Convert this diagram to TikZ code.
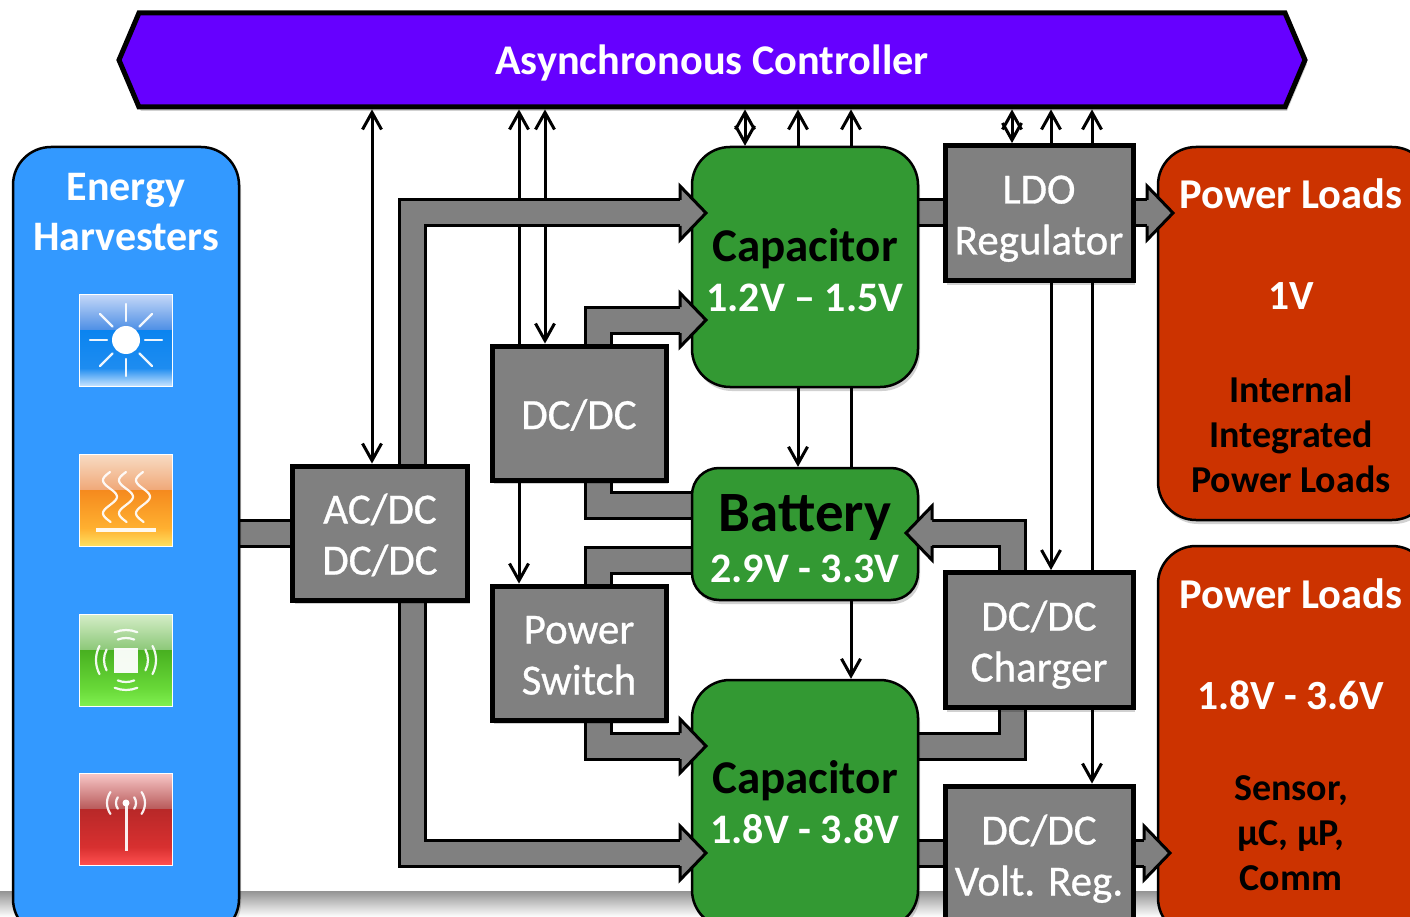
\documentclass[tikz,border=0pt]{standalone}
\usepackage{fontspec}
\setmainfont{Carlito}
\newfontfamily\grayfont[FakeBold=0.7]{Carlito}
\usetikzlibrary{arrows.meta,calc,shapes.symbols,shadows,backgrounds}
\definecolor{ctrlc}{HTML}{6600FF}
\definecolor{harvc}{HTML}{3399FF}
\definecolor{storec}{HTML}{339933}
\definecolor{loadc}{HTML}{CC3300}
\definecolor{fatc}{HTML}{808080}
\newcommand\fs[2]{\fontsize{#1}{#2}\selectfont}
\newcommand\toprl[1]{\rule{0pt}{#1pt}}
\newcommand\botrl[1]{\rule[-#1pt]{0pt}{1pt}}
\newcommand\two[2]{\toprl{44}#1\\#2\botrl{12}}
\pgfdeclarearrow{
  name=VBarb,
  setup code={
    \pgfarrowssettipend{3pt}
    \pgfarrowssetlineend{-1pt}
    \pgfarrowssetvisualbackend{-17pt}
    \pgfarrowssetbackend{-17pt}
    \pgfarrowshullpoint{-17pt}{9.5pt}
    \pgfarrowshullpoint{-17pt}{-9.5pt}
    \pgfarrowshullpoint{3pt}{0pt}
  },
  drawing code={
    \pgfsetdash{}{0pt}
    \pgfsetmiterjoin
    \pgfpathmoveto{\pgfqpoint{-17pt}{9.5pt}}
    \pgfpathlineto{\pgfqpoint{0pt}{0pt}}
    \pgfpathlineto{\pgfqpoint{-17pt}{-9.5pt}}
    \pgfusepathqstroke
  },
}
\tikzset{
  softshadow/.style={general shadow={shadow xshift=2pt,shadow yshift=-4pt,fill=black,opacity=.18}},
  conv/.style={draw=black,line width=5pt,fill=fatc,text=white,align=center,inner sep=0pt,font=\grayfont\fs{43}{51},softshadow},
  store/.style={draw=black,line width=2.5pt,fill=storec,align=center,inner sep=0pt,font=\fs{47}{50},softshadow},
  rail/.style={draw=black,line width=2.5pt,inner sep=0pt,softshadow},
  sig/.style={line width=3pt,draw=black},
  up/.style={sig,-VBarb},
  both/.style={sig,VBarb-VBarb},
  fatline/.style={draw=black,line width=3pt,double=fatc,double distance=23pt,line join=miter},
  fathead/.style={draw=black,fill=fatc,line width=3pt,line join=miter},
  lab/.style={align=center,inner sep=0pt},
  iconline/.style={draw=white,line width=2.2pt,line cap=round,opacity=.92},
}
\newcommand\headat[2]{\filldraw[fathead,shift={(#1)},rotate=#2] (-26,-13) -- (-26,-27) -- (0,0) -- (-26,27) -- (-26,13);}
\newcommand\iconbg[7]{%
  \shade[top color=#2,bottom color=#3] (79,#1-46) rectangle (172,#1-10);
  \shade[top color=#4,bottom color=#5] (79,#1-10) rectangle (172,#1+28);
  \shade[top color=#5,bottom color=#6] (79,#1+28) rectangle (172,#1+46);
  \draw[#7,line width=1pt] (79,#1-46) rectangle (172,#1+46);}
\definecolor{bA}{HTML}{C6D8F8}\definecolor{bB}{HTML}{4D8FE5}\definecolor{bC}{HTML}{0A84F0}\definecolor{bD}{HTML}{1E8CF0}\definecolor{bE}{HTML}{C8E4FF}
\definecolor{oA}{HTML}{F8DCC4}\definecolor{oB}{HTML}{F0A878}\definecolor{oC}{HTML}{F58A1E}\definecolor{oD}{HTML}{FFB030}\definecolor{oE}{HTML}{FFE060}
\definecolor{gA}{HTML}{D5EDC8}\definecolor{gB}{HTML}{8CC878}\definecolor{gC}{HTML}{48B020}\definecolor{gD}{HTML}{68D838}\definecolor{gE}{HTML}{80F050}
\definecolor{rA}{HTML}{F8C8C8}\definecolor{rB}{HTML}{B85A5A}\definecolor{rC}{HTML}{B82828}\definecolor{rD}{HTML}{D83030}\definecolor{rE}{HTML}{FF5050}
\begin{document}
\begin{tikzpicture}[x=1pt,y=-1pt]
\pgfdeclarelayer{thinlayer}
\pgfdeclarelayer{fatlayer}
\pgfsetlayers{thinlayer,fatlayer,main}
\useasboundingbox (0,0) rectangle (1410,917);
\clip (0,0) rectangle (1410,917);
\begin{pgfonlayer}{thinlayer}
\shade[top color=black!42,bottom color=white] (0,891) rectangle (1410,917);
\end{pgfonlayer}

% nodes
\node[shape=signal,signal to=east and west,signal pointer angle=134,draw=black,line width=5pt,fill=ctrlc,inner sep=0pt,minimum width=1186pt,minimum height=94pt,softshadow] (ctrl) at (712,60) {};
\node[lab,text=white,font=\fs{42.3}{46}\bfseries] (ctrlt) at (712,63) {Asynchronous Controller};
\node[rail,fill=harvc,minimum width=226pt,minimum height=790pt,rounded corners=38pt] (harv) at (126,542) {};
\node[lab,text=white,font=\fs{42}{50}\bfseries] (harvt) at (126,212) {Energy\\Harvesters};
\node[conv,minimum width=175pt,minimum height=134pt] (acdc) at (380,533) {\two{AC/DC}{DC/DC}};
\node[conv,minimum width=174pt,minimum height=134pt] (dcdc) at (579,413) {\toprl{44}DC/DC\botrl{12}};
\node[conv,minimum width=174pt,minimum height=134pt] (psw) at (579,653) {\two{Power}{Switch}};
\node[conv,minimum width=188pt,minimum height=135pt] (ldo) at (1039,213) {\two{LDO}{Regulator}};
\node[conv,minimum width=188pt,minimum height=135pt] (chg) at (1039,640) {\two{DC/DC}{Charger}};
\node[conv,minimum width=188pt,minimum height=136pt] (vreg) at (1039,854) {\two{DC/DC}{Volt. Reg.}};
\node[store,minimum width=226pt,minimum height=240pt,rounded corners=38pt] (capa) at (805,267) {\toprl{39}\bfseries Capacitor\\{\fs{42}{50}\bfseries\color{white}1.2V – 1.5V}};
\node[store,font=\fs{57}{51},minimum width=226pt,minimum height=132pt,rounded corners=27pt] (batt) at (805,534) {\toprl{46}\bfseries Battery\\{\fs{42}{51}\bfseries\color{white}2.9V - 3.3V}};
\node[store,minimum width=226pt,minimum height=248pt,rounded corners=38pt] (capb) at (805,804) {\bfseries Capacitor\\{\fs{42}{50}\bfseries\color{white}1.8V - 3.8V}\botrl{3}};
\node[rail,fill=loadc,minimum width=272pt,minimum height=373pt,rounded corners=38pt] (loada) at (1294,333.5) {};
\node[rail,fill=loadc,minimum width=272pt,minimum height=390pt,rounded corners=38pt] (loadb) at (1294,741) {};
\node[lab,text=white,font=\fs{42.5}{46}\bfseries] (la1) at (1291,194) {Power Loads};
\node[lab,text=white,font=\fs{41.5}{46}\bfseries] (la2) at (1291,296) {1V};
\node[lab,text=black,font=\fs{38}{45}\bfseries] (la3) at (1291,434) {Internal\\Integrated\\Power Loads};
\node[lab,text=white,font=\fs{42.5}{46}\bfseries] (lb1) at (1291,594) {Power Loads};
\node[lab,text=white,font=\fs{41.5}{46}\bfseries] (lb2) at (1291,695) {1.8V - 3.6V};
\node[lab,text=black,font=\fs{38}{45}\bfseries] (lb3) at (1291,833) {Sensor,\\µC, µP,\\Comm};

% guides
\foreach \v in {372,412,519,545,598,745,798,851,1012,1051,1092} \coordinate (x\v) at (\v,0);
\foreach \v in {213,505,533,560,746,853} \coordinate (y\v) at (0,\v);
\coordinate (tipA) at (706,213);
\coordinate (tipB) at (706,320);
\coordinate (tipC) at (706,853);
\coordinate (tipD) at (706,746);
\coordinate (tipE) at (906,533);
\coordinate (tipF) at (1173,213);
\coordinate (tipG) at (1170,853);

% thin signals
\begin{pgfonlayer}{thinlayer}
\draw[both] (ctrl.south -| x372) -- (acdc.north -| x372);
\draw[up] (dcdc.north -| x519) -- (ctrl.south -| x519);
\draw[up] (dcdc.south -| x519) -- (psw.north -| x519);
\draw[both] (ctrl.south -| x545) -- (dcdc.north -| x545);
\draw[both] (ctrl.south -| x745) -- (capa.north -| x745);
\draw[up] (capa.north -| x798) -- (ctrl.south -| x798);
\draw[up] (capa.north -| x851) -- (ctrl.south -| x851);
\draw[up] (capa.south -| x798) -- (batt.north -| x798);
\draw[sig] (capa.south -| x851) -- (batt.north -| x851);
\draw[up] (batt.south -| x851) -- (capb.north -| x851);
\draw[both] (ctrl.south -| x1012) -- (ldo.north -| x1012);
\draw[up] (ldo.north -| x1051) -- (ctrl.south -| x1051);
\draw[up] (ldo.north -| x1092) -- (ctrl.south -| x1092);
\draw[up] (ldo.south -| x1051) -- (chg.north -| x1051);
\draw[sig] (ldo.south -| x1092) -- (chg.north -| x1092);
\draw[up] (chg.south -| x1092) -- (vreg.north -| x1092);
\end{pgfonlayer}

% power paths
\begin{pgfonlayer}{fatlayer}
\draw[fatline] (harv.east |- y533) -- (acdc.west |- y533);
\draw[fatline] (acdc.north -| x412) |- ($(tipA)+(-26,0)$);
\draw[fatline] (acdc.south -| x412) |- ($(tipC)+(-26,0)$);
\draw[fatline] (dcdc.north -| x598) |- ($(tipB)+(-26,0)$);
\draw[fatline] (dcdc.south -| x598) |- (batt.west |- y505);
\draw[fatline] (psw.north -| x598) |- (batt.west |- y560);
\draw[fatline] (psw.south -| x598) |- ($(tipD)+(-26,0)$);
\draw[fatline] (chg.north -| x1012) |- ($(tipE)+(26,0)$);
\draw[fatline] (chg.south -| x1012) |- (capb.east |- y746);
\draw[fatline] (capa.east |- y213) -- (ldo.west |- y213);
\draw[fatline] (ldo.east |- y213) -- ($(tipF)+(-26,0)$);
\draw[fatline] (capb.east |- y853) -- (vreg.west |- y853);
\draw[fatline] (vreg.east |- y853) -- ($(tipG)+(-26,0)$);
\end{pgfonlayer}
\headat{tipA}{0}
\headat{tipB}{0}
\headat{tipC}{0}
\headat{tipD}{0}
\headat{tipE}{180}
\headat{tipF}{0}
\headat{tipG}{0}

% icons
\iconbg{340}{bA}{bB}{bC}{bD}{bE}{white}
\begin{scope}[shift={(126,340)}]
\fill[white] (0,0) circle (14);
\foreach \a in {0,90,180,270} \draw[iconline] (\a:19) -- (\a:36);
\foreach \a in {45,135,225,315} \draw[iconline] (\a:19) -- (\a:37);
\end{scope}
\iconbg{500}{oA}{oB}{oC}{oD}{oE}{white}
\begin{scope}[shift={(126,500)}]
\foreach \d in {-16,0,17} \draw[iconline,xshift=\d pt] plot[domain=-28:22,samples=36,smooth] ({-7*sin((\x+28)/33*360)},\x);
\draw[iconline,line width=3.5pt,line cap=butt] (-30,30) -- (30,30);
\end{scope}
\iconbg{660}{gA}{gB}{gC}{gD}{gE}{white}
\begin{scope}[shift={(126,660)}]
\fill[white,opacity=.95] (-12,-12) rectangle (12,13);
\foreach \r in {22,30} {
  \draw[iconline] (152:\r) arc[start angle=152,end angle=208,radius=\r];
  \draw[iconline] (-28:\r) arc[start angle=-28,end angle=28,radius=\r];
  \draw[iconline] (248:\r) arc[start angle=248,end angle=292,radius=\r];
  \draw[iconline] (68:\r) arc[start angle=68,end angle=112,radius=\r];
}
\end{scope}
\iconbg{819}{rA}{rB}{rC}{rD}{rE}{white}
\begin{scope}[shift={(126,803)}]
\draw[iconline,line width=3pt,line cap=butt] (0,0) -- (0,48);
\fill[white] (0,0) circle (3.5);
\foreach \r in {10,19} {
  \draw[iconline] (-35:\r) arc[start angle=-35,end angle=35,radius=\r];
  \draw[iconline] (145:\r) arc[start angle=145,end angle=215,radius=\r];
}
\end{scope}
\end{tikzpicture}
\end{document}
